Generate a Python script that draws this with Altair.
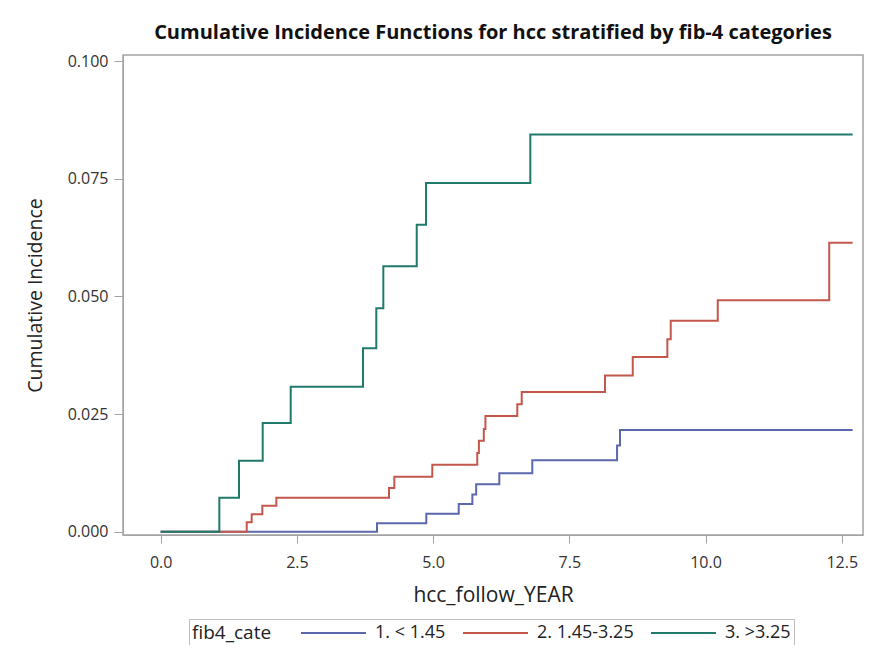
import altair as alt
import pandas as pd

# ---- data ----
groups = ["1. < 1.45", "2. 1.45-3.25", "3. >3.25"]

t_low = [0.0, 3.97, 4.875, 5.47, 5.72, 5.79, 6.215, 6.82, 8.376, 8.43, 12.70]
ci_low = [0.0, 0.0018, 0.0038, 0.0059, 0.0079, 0.0101, 0.0124, 0.0152, 0.0183, 0.0216, 0.0216]

t_mid = [0.0, 1.579, 1.670, 1.865, 2.122, 4.19, 4.288, 4.985, 5.81, 5.84, 5.93, 5.96,
         6.545, 6.626, 8.155, 8.664, 9.299, 9.361, 10.224, 12.27, 12.70]
ci_mid = [0.0, 0.0020, 0.0037, 0.0055, 0.0072, 0.0093, 0.0117, 0.0142, 0.0167, 0.0193, 0.0218, 0.0246,
          0.0271, 0.0297, 0.0332, 0.0371, 0.0409, 0.0448, 0.0492, 0.0614, 0.0614]

t_high = [0.0, 1.076, 1.437, 1.872, 2.386, 3.713, 3.957, 4.086, 4.699, 4.870, 6.784, 12.70]
ci_high = [0.0, 0.0072, 0.0151, 0.0231, 0.0308, 0.0390, 0.0475, 0.0564, 0.0652, 0.0741, 0.0844, 0.0844]

x_ticks = [0.0, 2.5, 5.0, 7.5, 10.0, 12.5]
y_ticks = [0.0, 0.025, 0.05, 0.075, 0.1]

colors = ["#5b68ad", "#c4574c", "#1f7a6c"]

rows = []
for g, ts, vs in zip(groups, [t_low, t_mid, t_high], [ci_low, ci_mid, ci_high]):
    for t, v in zip(ts, vs):
        rows.append({"fib4_cate": g, "year": t, "ci": v})
df = pd.DataFrame(rows)

FONT = "Open Sans"
GRID = "#a3a3a3"

chart = alt.Chart(df).mark_line(interpolate="step-after", strokeWidth=2).encode(
    x=alt.X("year:Q",
            scale=alt.Scale(domain=[-0.692, 12.89], nice=False, zero=False),
            axis=alt.Axis(title="hcc_follow_YEAR", values=x_ticks, format=".1f",
                          tickSize=8, labelPadding=11, titlePadding=14, grid=False)),
    y=alt.Y("ci:Q",
            scale=alt.Scale(domain=[-0.0007, 0.10128], nice=False, zero=False),
            axis=alt.Axis(title="Cumulative Incidence", values=y_ticks, format=".3f",
                          tickSize=9, labelPadding=6, titlePadding=22, grid=False)),
    color=alt.Color("fib4_cate:N",
                    scale=alt.Scale(domain=groups, range=colors),
                    legend=alt.Legend(title="fib4_cate", orient="none", legendX=66, legendY=564,
                                      direction="horizontal", titleOrient="left",
                                      titleBaseline="middle", titleAnchor="middle",
                                      symbolType="stroke", symbolSize=4225, symbolStrokeWidth=2,
                                      clipHeight=22,
                                      labelFontSize=18, titleFontSize=19, titleFontWeight="normal",
                                      labelOffset=8, columnPadding=16, titlePadding=28,
                                      padding=3, strokeColor="#bdbdbd",
                                      labelFont=FONT, titleFont=FONT,
                                      labelColor="#222", titleColor="#222")),
    order=alt.Order("year:Q"),
).properties(
    width=740,
    height=480,
    autosize=alt.AutoSizeParams(type="none"),
    padding={"left": 115, "top": 47, "right": 6, "bottom": 110},
    title=alt.TitleParams("Cumulative Incidence Functions for hcc stratified by fib-4 categories",
                          fontSize=20, fontWeight="bold", font=FONT, anchor="middle",
                          offset=10, color="#111"),
).configure_view(
    stroke=GRID, strokeWidth=1.5
).configure_axis(
    domainColor=GRID, tickColor=GRID, labelFont=FONT, titleFont=FONT,
    labelFontSize=16, titleFontSize=19.5, titleFontWeight="normal",
    labelColor="#333", titleColor="#222"
).configure_axisX(titleFontSize=21)

chart.save("out.html", embed_options={"renderer": "svg", "actions": False})
